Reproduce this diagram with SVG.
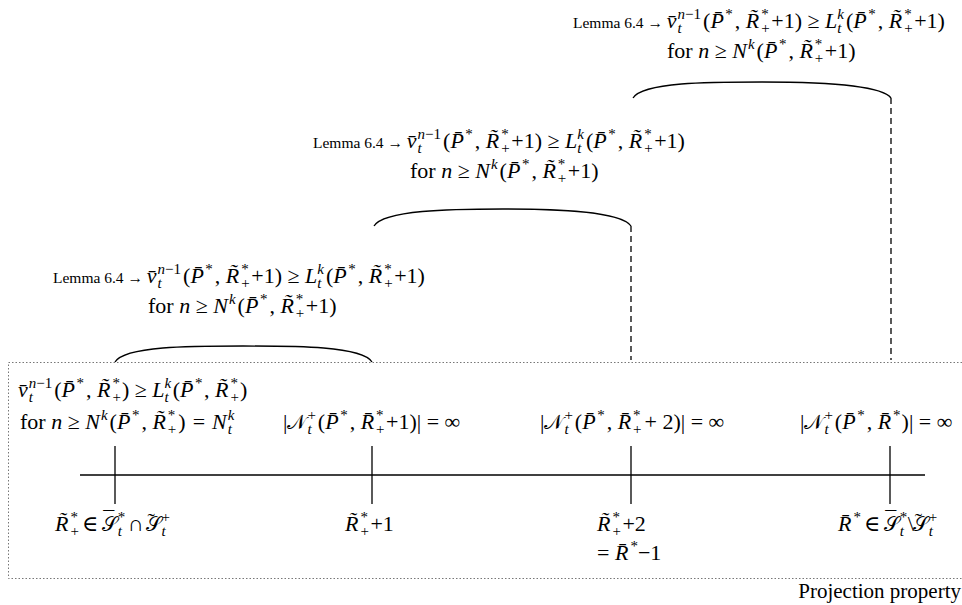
<svg xmlns="http://www.w3.org/2000/svg" width="962" height="605" viewBox="0 0 962 605">
<style>
.t{font-family:"Liberation Serif","DejaVu Serif",serif;font-size:22px;fill:#000}
.i{font-style:italic}
.s{font-size:15px}
.lem{font-size:15.5px}
.scr{font-family:"DejaVu Sans","DejaVu Serif","Noto Sans",serif;font-style:normal;font-size:20px}
.acc{font-size:22px}
.arc{fill:none;stroke:#000;stroke-width:1.3}
.dash{fill:none;stroke:#000;stroke-width:1.3;stroke-dasharray:6 4}
.ax{stroke:#000;stroke-width:1.3}
.box{fill:none;stroke:#777;stroke-width:1;stroke-dasharray:1.5 2}
</style>
<rect width="962" height="605" fill="#fff"/>
<g id="frame"><path class="box" d="M962 362.5H8.5V578.5H962"/></g>
<g id="connectors">
<path class="arc" d="M115 362C125 346 190 346 243 346C296 346 362 346 372 362"/>
<path class="arc" d="M374 226C384 210 450 209 503 209C556 209 621 211 631 226"/>
<path class="arc" d="M633 98C643 82 709 82 762 82C815 82 881 84 891 98"/>
<path class="dash" d="M631 226V360"/>
<path class="dash" d="M891 98V360"/>
</g>
<g id="axis">
<line class="ax" x1="80" y1="475" x2="925" y2="475"/>
<line class="ax" x1="115" y1="446" x2="115" y2="504"/>
<line class="ax" x1="372" y1="446" x2="372" y2="504"/>
<line class="ax" x1="631" y1="446" x2="631" y2="504"/>
<line class="ax" x1="890" y1="446" x2="890" y2="504"/>
</g>
<g id="node-lemma-top">
<text class="t" x="573" y="28"><tspan class="lem">Lemma 6.4 → </tspan><tspan class="i">v&#x304;</tspan><tspan class="s i" dx="1" dy="5">t</tspan><tspan class="s" dx="-4.2" dy="-14"><tspan class="i">n</tspan>−1</tspan><tspan dx="2" dy="9">(</tspan><tspan class="i">P&#x304;</tspan><tspan class="s" dx="1.5" dy="-9">*</tspan><tspan dx="2" dy="9">, </tspan><tspan class="i">R&#x303;</tspan><tspan class="s" dx="2" dy="-9">*</tspan><tspan class="s" dx="-7.5" dy="14">+</tspan><tspan dx="1.5" dy="-5">+1) ≥ </tspan><tspan class="i">L</tspan><tspan class="s i" dy="5">t</tspan><tspan class="s i" dx="-4.2" dy="-14">k</tspan><tspan dx="2" dy="9">(</tspan><tspan class="i">P&#x304;</tspan><tspan class="s" dx="1.5" dy="-9">*</tspan><tspan dx="2" dy="9">, </tspan><tspan class="i">R&#x303;</tspan><tspan class="s" dx="2" dy="-9">*</tspan><tspan class="s" dx="-7.5" dy="14">+</tspan><tspan dx="1.5" dy="-5">+1)</tspan></text>
<text class="t" x="667" y="58">for <tspan class="i">n</tspan> ≥ <tspan class="i">N</tspan><tspan class="s i" dx="1" dy="-9">k</tspan><tspan dx="2" dy="9">(</tspan><tspan class="i">P&#x304;</tspan><tspan class="s" dx="1.5" dy="-9">*</tspan><tspan dx="2" dy="9">, </tspan><tspan class="i">R&#x303;</tspan><tspan class="s" dx="2" dy="-9">*</tspan><tspan class="s" dx="-7.5" dy="14">+</tspan><tspan dx="1.5" dy="-5">+1)</tspan></text>
</g>
<g id="node-lemma-mid">
<text class="t" x="313" y="148"><tspan class="lem">Lemma 6.4 → </tspan><tspan class="i">v&#x304;</tspan><tspan class="s i" dx="1" dy="5">t</tspan><tspan class="s" dx="-4.2" dy="-14"><tspan class="i">n</tspan>−1</tspan><tspan dx="2" dy="9">(</tspan><tspan class="i">P&#x304;</tspan><tspan class="s" dx="1.5" dy="-9">*</tspan><tspan dx="2" dy="9">, </tspan><tspan class="i">R&#x303;</tspan><tspan class="s" dx="2" dy="-9">*</tspan><tspan class="s" dx="-7.5" dy="14">+</tspan><tspan dx="1.5" dy="-5">+1) ≥ </tspan><tspan class="i">L</tspan><tspan class="s i" dy="5">t</tspan><tspan class="s i" dx="-4.2" dy="-14">k</tspan><tspan dx="2" dy="9">(</tspan><tspan class="i">P&#x304;</tspan><tspan class="s" dx="1.5" dy="-9">*</tspan><tspan dx="2" dy="9">, </tspan><tspan class="i">R&#x303;</tspan><tspan class="s" dx="2" dy="-9">*</tspan><tspan class="s" dx="-7.5" dy="14">+</tspan><tspan dx="1.5" dy="-5">+1)</tspan></text>
<text class="t" x="410" y="178">for <tspan class="i">n</tspan> ≥ <tspan class="i">N</tspan><tspan class="s i" dx="1" dy="-9">k</tspan><tspan dx="2" dy="9">(</tspan><tspan class="i">P&#x304;</tspan><tspan class="s" dx="1.5" dy="-9">*</tspan><tspan dx="2" dy="9">, </tspan><tspan class="i">R&#x303;</tspan><tspan class="s" dx="2" dy="-9">*</tspan><tspan class="s" dx="-7.5" dy="14">+</tspan><tspan dx="1.5" dy="-5">+1)</tspan></text>
</g>
<g id="node-lemma-low">
<text class="t" x="53" y="283"><tspan class="lem">Lemma 6.4 → </tspan><tspan class="i">v&#x304;</tspan><tspan class="s i" dx="1" dy="5">t</tspan><tspan class="s" dx="-4.2" dy="-14"><tspan class="i">n</tspan>−1</tspan><tspan dx="2" dy="9">(</tspan><tspan class="i">P&#x304;</tspan><tspan class="s" dx="1.5" dy="-9">*</tspan><tspan dx="2" dy="9">, </tspan><tspan class="i">R&#x303;</tspan><tspan class="s" dx="2" dy="-9">*</tspan><tspan class="s" dx="-7.5" dy="14">+</tspan><tspan dx="1.5" dy="-5">+1) ≥ </tspan><tspan class="i">L</tspan><tspan class="s i" dy="5">t</tspan><tspan class="s i" dx="-4.2" dy="-14">k</tspan><tspan dx="2" dy="9">(</tspan><tspan class="i">P&#x304;</tspan><tspan class="s" dx="1.5" dy="-9">*</tspan><tspan dx="2" dy="9">, </tspan><tspan class="i">R&#x303;</tspan><tspan class="s" dx="2" dy="-9">*</tspan><tspan class="s" dx="-7.5" dy="14">+</tspan><tspan dx="1.5" dy="-5">+1)</tspan></text>
<text class="t" x="148" y="313">for <tspan class="i">n</tspan> ≥ <tspan class="i">N</tspan><tspan class="s i" dx="1" dy="-9">k</tspan><tspan dx="2" dy="9">(</tspan><tspan class="i">P&#x304;</tspan><tspan class="s" dx="1.5" dy="-9">*</tspan><tspan dx="2" dy="9">, </tspan><tspan class="i">R&#x303;</tspan><tspan class="s" dx="2" dy="-9">*</tspan><tspan class="s" dx="-7.5" dy="14">+</tspan><tspan dx="1.5" dy="-5">+1)</tspan></text>
</g>
<g id="node-start">
<text class="t" x="18" y="397"><tspan class="i">v&#x304;</tspan><tspan class="s i" dx="1" dy="5">t</tspan><tspan class="s" dx="-4.2" dy="-14"><tspan class="i">n</tspan>−1</tspan><tspan dx="2" dy="9">(</tspan><tspan class="i">P&#x304;</tspan><tspan class="s" dx="1.5" dy="-9">*</tspan><tspan dx="2" dy="9">, </tspan><tspan class="i">R&#x303;</tspan><tspan class="s" dx="2" dy="-9">*</tspan><tspan class="s" dx="-7.5" dy="14">+</tspan><tspan dx="1" dy="-5">) ≥ </tspan><tspan class="i">L</tspan><tspan class="s i" dy="5">t</tspan><tspan class="s i" dx="-4.2" dy="-14">k</tspan><tspan dx="1.5" dy="9">(</tspan><tspan class="i">P&#x304;</tspan><tspan class="s" dx="1.5" dy="-9">*</tspan><tspan dx="1.5" dy="9">, </tspan><tspan class="i">R&#x303;</tspan><tspan class="s" dx="2" dy="-9">*</tspan><tspan class="s" dx="-7.5" dy="14">+</tspan><tspan dx="1" dy="-5">)</tspan></text>
<text class="t" x="20" y="429">for <tspan class="i">n</tspan> ≥ <tspan class="i">N</tspan><tspan class="s i" dx="1" dy="-9">k</tspan><tspan dx="2" dy="9">(</tspan><tspan class="i">P&#x304;</tspan><tspan class="s" dx="1.5" dy="-9">*</tspan><tspan dx="2" dy="9">, </tspan><tspan class="i">R&#x303;</tspan><tspan class="s" dx="2" dy="-9">*</tspan><tspan class="s" dx="-7.5" dy="14">+</tspan><tspan dx="2" dy="-5">) </tspan><tspan dx="1.5">= </tspan><tspan class="i" dx="1.5">N</tspan><tspan class="s i" dx="1" dy="5">t</tspan><tspan class="s i" dx="-4.2" dy="-14">k</tspan></text>
<text class="t" x="55" y="531"><tspan class="i">R&#x303;</tspan><tspan class="s" dx="2" dy="-9">*</tspan><tspan class="s" dx="-7.5" dy="14">+</tspan><tspan dx="3" dy="-5">∈</tspan><tspan class="acc" dx="5" dy="-5">¯</tspan><tspan class="scr" dx="-12" dy="5">𝒮</tspan><tspan class="s i" dx="0.5" dy="5">t</tspan><tspan class="s" dx="-4.2" dy="-14">*</tspan><tspan dx="2.5" dy="9">∩</tspan><tspan class="acc" dx="4" dy="-3">˜</tspan><tspan class="scr" dx="-9" dy="3">𝒮</tspan><tspan class="s i" dx="0.5" dy="5">t</tspan><tspan class="s" dx="-4.2" dy="-14">+</tspan></text>
</g>
<g id="node-p1">
<text class="t" x="283" y="429">|<tspan class="scr">𝒩</tspan><tspan class="s i" dx="1" dy="5">t</tspan><tspan class="s" dx="-4.2" dy="-14">+</tspan><tspan dx="2" dy="9">(</tspan><tspan class="i">P&#x304;</tspan><tspan class="s" dx="1.5" dy="-9">*</tspan><tspan dx="2" dy="9">, </tspan><tspan class="i">R&#x304;</tspan><tspan class="s" dx="2" dy="-9">*</tspan><tspan class="s" dx="-7.5" dy="14">+</tspan><tspan dx="1.5" dy="-5">+1)| = ∞</tspan></text>
<text class="t" x="345" y="531"><tspan class="i">R&#x303;</tspan><tspan class="s" dx="2" dy="-9">*</tspan><tspan class="s" dx="-7.5" dy="14">+</tspan><tspan dx="1.5" dy="-5">+1</tspan></text>
</g>
<g id="node-p2">
<text class="t" x="540" y="429">|<tspan class="scr">𝒩</tspan><tspan class="s i" dx="1" dy="5">t</tspan><tspan class="s" dx="-4.2" dy="-14">+</tspan><tspan dx="2" dy="9">(</tspan><tspan class="i">P&#x304;</tspan><tspan class="s" dx="1.5" dy="-9">*</tspan><tspan dx="2" dy="9">, </tspan><tspan class="i">R&#x304;</tspan><tspan class="s" dx="2" dy="-9">*</tspan><tspan class="s" dx="-7.5" dy="14">+</tspan><tspan dx="3" dy="-5">+ 2)| = ∞</tspan></text>
<text class="t" x="597" y="531"><tspan class="i">R&#x303;</tspan><tspan class="s" dx="2" dy="-9">*</tspan><tspan class="s" dx="-7.5" dy="14">+</tspan><tspan dx="1.5" dy="-5">+2</tspan></text>
<text class="t" x="597" y="560">= <tspan class="i">R&#x304;</tspan><tspan class="s" dx="2" dy="-9">*</tspan><tspan dy="9">−1</tspan></text>
</g>
<g id="node-end">
<text class="t" x="800" y="429">|<tspan class="scr">𝒩</tspan><tspan class="s i" dx="1" dy="5">t</tspan><tspan class="s" dx="-4.2" dy="-14">+</tspan><tspan dx="2" dy="9">(</tspan><tspan class="i">P&#x304;</tspan><tspan class="s" dx="1.5" dy="-9">*</tspan><tspan dx="2" dy="9">, </tspan><tspan class="i">R&#x304;</tspan><tspan class="s" dx="2" dy="-9">*</tspan><tspan dx="1" dy="9">)| = ∞</tspan></text>
<text class="t" x="838" y="531"><tspan class="i">R&#x304;</tspan><tspan class="s" dx="2" dy="-9">*</tspan><tspan dx="3" dy="9">∈</tspan><tspan class="acc" dx="5" dy="-5">¯</tspan><tspan class="scr" dx="-12" dy="5">𝒮</tspan><tspan class="s i" dx="0.5" dy="5">t</tspan><tspan class="s" dx="-4.2" dy="-14">*</tspan><tspan dx="0.5" dy="9">\</tspan><tspan class="acc" dx="1" dy="-3">˜</tspan><tspan class="scr" dx="-9" dy="3">𝒮</tspan><tspan class="s i" dx="0.5" dy="5">t</tspan><tspan class="s" dx="-4.2" dy="-14">+</tspan></text>
</g>
<g id="label-projection">
<text class="t" x="961" y="598" text-anchor="end" style="font-size:21px">Projection property</text>
</g>
</svg>
